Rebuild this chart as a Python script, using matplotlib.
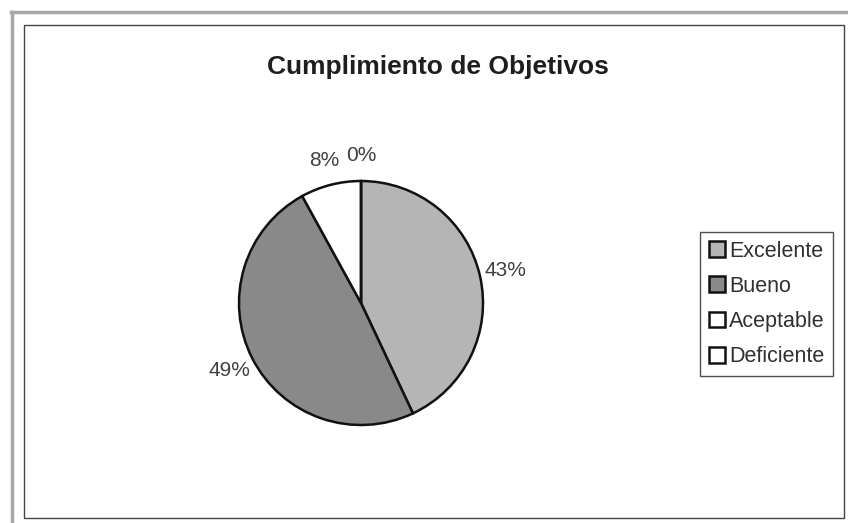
import matplotlib
matplotlib.use('Agg')
import matplotlib.pyplot as plt
from matplotlib.patches import Rectangle
from matplotlib.lines import Line2D

plt.rcParams['font.family'] = ['Liberation Sans', 'DejaVu Sans']

# Data
categories = ['Excelente', 'Bueno', 'Aceptable', 'Deficiente']
values = [43, 49, 8, 0]
colors = ['#b5b5b5', '#898989', '#ffffff', '#ffffff']

W, H = 848, 523
fig = plt.figure(figsize=(W / 100, H / 100), dpi=100)

# outer grey frame (scan border) and inner chart border
fig.add_artist(Line2D([11 / W, 1], [1 - 12 / H, 1 - 12 / H], color='#a8a8a8', lw=2.5,
                      transform=fig.transFigure))
fig.add_artist(Line2D([12 / W, 12 / W], [0, 1 - 12 / H], color='#a8a8a8', lw=2.5,
                      transform=fig.transFigure))
fig.add_artist(Rectangle((24 / W, 1 - 518 / H), (844 - 24) / W, (518 - 25) / H,
                         fill=False, edgecolor='#444444', lw=1.0,
                         transform=fig.transFigure))

# Title
fig.text(438 / W, 1 - 67 / H, 'Cumplimiento de Objetivos', ha='center', va='center',
         fontsize=19, fontweight='bold', color='#1e1e1e')

# Pie
cx, cy, r = 361, 303, 122
ax = fig.add_axes([(cx - r) / W, (H - cy - r) / H, 2 * r / W, 2 * r / H])
wedges, texts, autotexts = ax.pie(values, colors=colors, startangle=90, counterclock=False,
                                  autopct='%1.0f%%', pctdistance=1.21,
                                  wedgeprops=dict(edgecolor='#111111', linewidth=1.8),
                                  textprops=dict(fontsize=15, color='#404040'))
ax.set_xlim(-1, 1)
ax.set_ylim(-1, 1)
ax.set_aspect('auto')
ax.axis('off')

# Legend
leg = fig.legend(wedges, categories, loc='upper left',
                 bbox_to_anchor=(700 / W, 1 - 232 / H), fontsize=15.5,
                 frameon=True, fancybox=False, edgecolor='#222222',
                 handlelength=0.75, handleheight=0.75, handletextpad=0.2,
                 labelspacing=0.66, borderpad=0.4, borderaxespad=0)
leg.get_frame().set_linewidth(1.0)
for t in leg.get_texts():
    t.set_color('#303030')

fig.savefig('out.png', dpi=100, facecolor='white')
